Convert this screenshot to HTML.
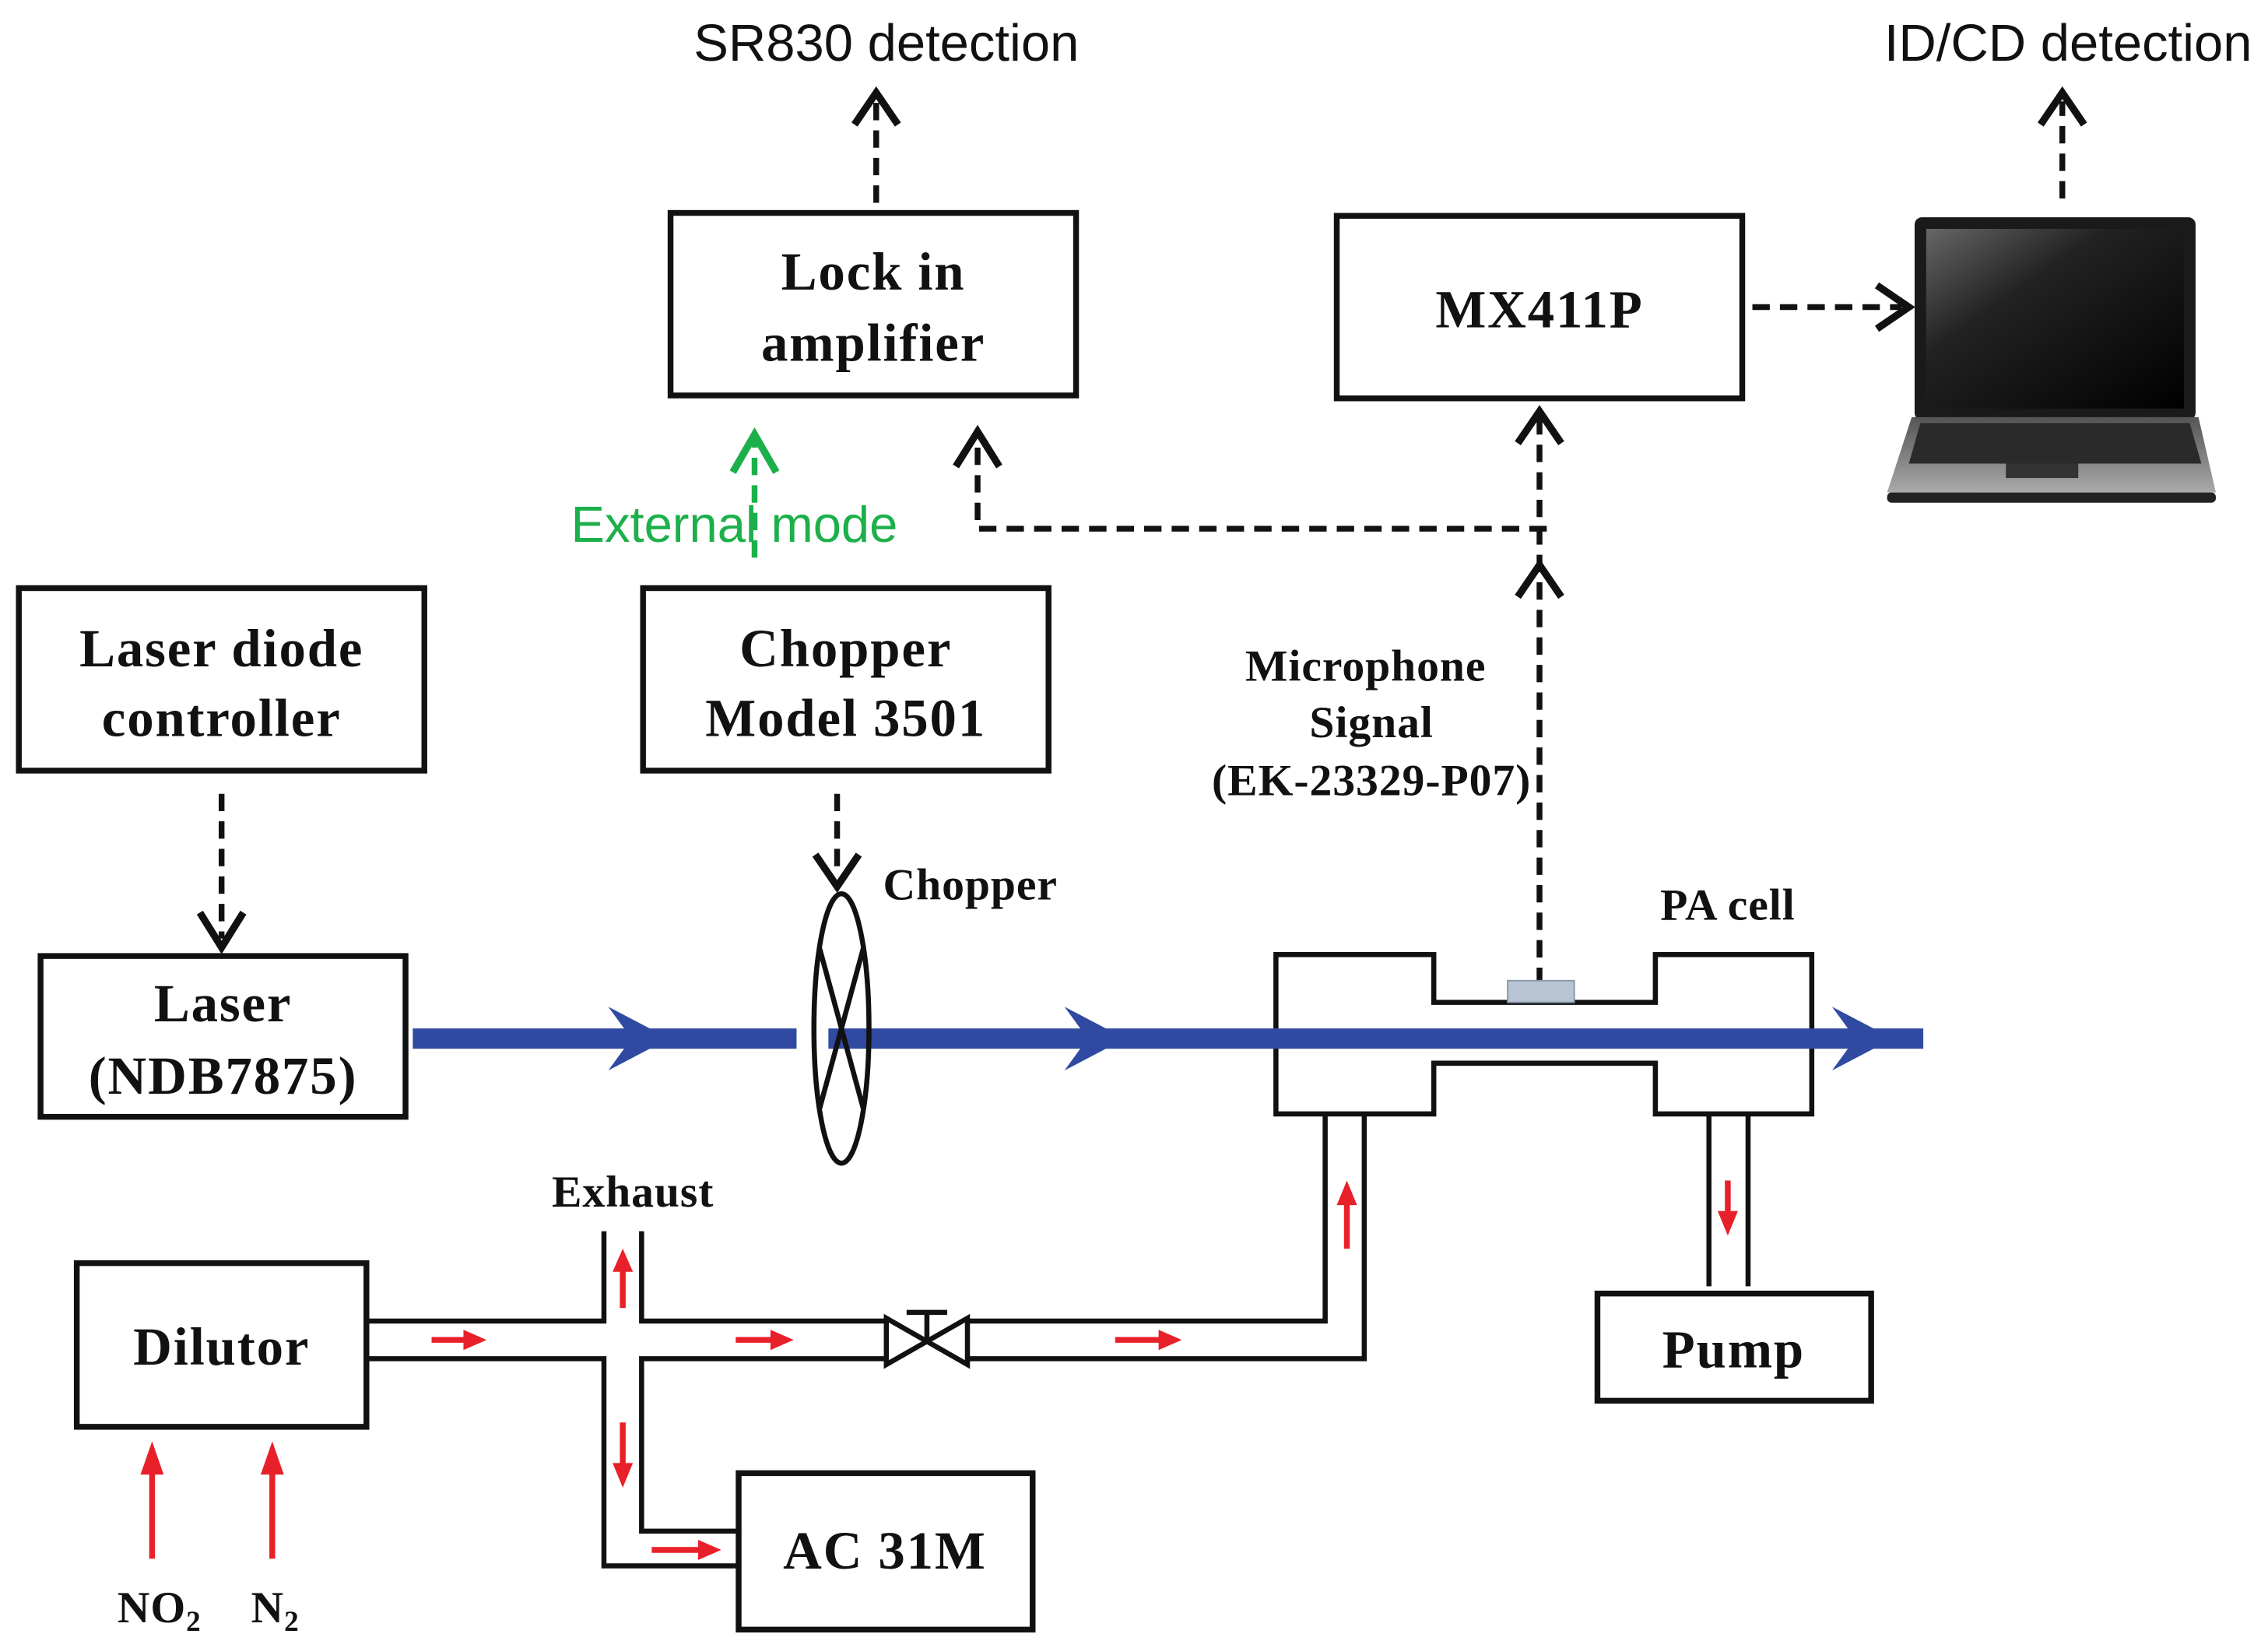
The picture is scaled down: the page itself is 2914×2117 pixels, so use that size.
<!DOCTYPE html>
<html><head><meta charset="utf-8"><style>
html,body{margin:0;padding:0;background:#fff;}
svg{display:block;}
.s{font-family:"Liberation Serif",serif;font-weight:bold;fill:#111;}
.a{font-family:"Liberation Sans",sans-serif;fill:#111;}
</style></head><body>
<svg width="2914" height="2117" viewBox="0 0 1566 1137.7" xmlns="http://www.w3.org/2000/svg">
<defs>
<linearGradient id="scr" x1="0" y1="0" x2="1" y2="1"><stop offset="0" stop-color="#666"/><stop offset="0.35" stop-color="#222"/><stop offset="1" stop-color="#000"/></linearGradient>
<linearGradient id="base" x1="0" y1="0" x2="0" y2="1"><stop offset="0" stop-color="#555"/><stop offset="1" stop-color="#aaa"/></linearGradient>
</defs>
<g fill="none" stroke="#111" stroke-width="4">
<rect x="463" y="147" width="280" height="126"/>
<rect x="923" y="149" width="280" height="126"/>
<rect x="13" y="406" width="280" height="126"/>
<rect x="444" y="406" width="280" height="126"/>
<rect x="28" y="660" width="252" height="111"/>
<rect x="53" y="872" width="200" height="113"/>
<rect x="510" y="1017" width="203" height="108"/>
<rect x="1103" y="893" width="189" height="74"/>
</g>
<g class="s" text-anchor="middle" font-size="37" letter-spacing="1">
<text x="603" y="200">Lock in</text>
<text x="603" y="249">amplifier</text>
<text x="1063" y="226">MX411P</text>
<text x="153" y="460">Laser diode</text>
<text x="153" y="508">controller</text>
<text x="584" y="460">Chopper</text>
<text x="584" y="508">Model 3501</text>
<text x="154" y="705">Laser</text>
<text x="154" y="755">(NDB7875)</text>
<text x="153" y="942">Dilutor</text>
<text x="611" y="1083">AC 31M</text>
<text x="1197" y="944">Pump</text>
</g>
<g class="s" font-size="31" text-anchor="middle" letter-spacing="0.5">
<text x="943" y="470">Microphone</text>
<text x="947" y="509">Signal</text>
<text x="947" y="549">(EK-23329-P07)</text>
<text x="670" y="621">Chopper</text>
<text x="1193" y="635">PA cell</text>
<text x="437" y="833">Exhaust</text>
<text x="110" y="1120">NO<tspan font-size="20" dy="6">2</tspan></text>
<text x="190" y="1120">N<tspan font-size="20" dy="6">2</tspan></text>
</g>
<text class="a" x="612" y="42" font-size="36" text-anchor="middle">SR830 detection</text>
<text class="a" x="1428" y="42" font-size="36" text-anchor="middle">ID/CD detection</text>
<g fill="none" stroke="#111" stroke-width="4" stroke-dasharray="12,7">
<line x1="605" y1="140" x2="605" y2="70"/>
<line x1="1424" y1="137" x2="1424" y2="70"/>
<line x1="1210" y1="212" x2="1313" y2="212"/>
<polyline points="1068,365 675,365 675,303"/>
<line x1="1063" y1="680" x2="1063" y2="288"/>
<line x1="153" y1="548" x2="153" y2="648"/>
<line x1="578" y1="548" x2="578" y2="605"/>
</g>
<g fill="none" stroke="#111" stroke-width="5">
<polyline points="590,86 605,64 620,86"/>
<polyline points="1409,86 1424,64 1439,86"/>
<polyline points="1296,197 1318,212 1296,227"/>
<polyline points="660,322 675,298 690,322"/>
<polyline points="1048,306 1063,284 1078,306"/>
<polyline points="1048,412 1063,390 1078,412"/>
<polyline points="138,630 153,654 168,630"/>
<polyline points="563,590 578,612 593,590"/>
</g>
<line x1="521" y1="385" x2="521" y2="305" stroke="#1cb04a" stroke-width="4" stroke-dasharray="12,7"/>
<polyline points="506,326 521,300 536,326" fill="none" stroke="#1cb04a" stroke-width="5"/>
<text x="507" y="374" font-family="Liberation Sans,sans-serif" font-size="35" fill="#1cb04a" text-anchor="middle">External mode</text>
<g fill="#fff" stroke="#111" stroke-width="3.5">
<path d="M881,659 H990 V692 H1143 V659 H1251 V769 H1143 V734 H990 V769 H881 Z"/>
</g>
<rect x="1041" y="677" width="46" height="15" fill="#b8c4d4" stroke="#8895a8" stroke-width="1"/>
<g fill="#2f4aa0">
<rect x="285" y="710" width="265" height="14"/>
<rect x="572" y="710" width="756" height="14"/>
<polygon points="420,695 462,717 420,739 436,717"/>
<polygon points="735,695 777,717 735,739 751,717"/>
<polygon points="1265,695 1307,717 1265,739 1281,717"/>
</g>
<g fill="none" stroke="#111" stroke-width="3.5">
<ellipse cx="581" cy="710" rx="19" ry="93"/>
<line x1="566" y1="655" x2="596" y2="765"/>
<line x1="596" y1="655" x2="566" y2="765"/>
</g>
<g fill="none" stroke="#111" stroke-width="3.5">
<polyline points="253,912 417,912 417,850"/>
<polyline points="443,850 443,912 612,912"/>
<polyline points="668,912 915,912 915,769"/>
<polyline points="253,938 417,938 417,1081 510,1081"/>
<polyline points="510,1057 443,1057 443,938 612,938"/>
<polyline points="668,938 942,938 942,769"/>
<line x1="1180" y1="769" x2="1180" y2="888"/>
<line x1="1207" y1="769" x2="1207" y2="888"/>
<polygon points="612,910 668,942 668,910 612,942" fill="#fff"/>
<line x1="640" y1="926" x2="640" y2="906"/>
<line x1="626" y1="906" x2="654" y2="906"/>
</g>
<g stroke="#e8202a" stroke-width="4" fill="#e8202a">
<line x1="298" y1="925" x2="322" y2="925"/><polygon points="320,918 336,925 320,932" stroke="none"/>
<line x1="508" y1="925" x2="534" y2="925"/><polygon points="532,918 548,925 532,932" stroke="none"/>
<line x1="770" y1="925" x2="802" y2="925"/><polygon points="800,918 816,925 800,932" stroke="none"/>
<line x1="450" y1="1070" x2="484" y2="1070"/><polygon points="482,1063 498,1070 482,1077" stroke="none"/>
<line x1="430" y1="903" x2="430" y2="876"/><polygon points="423,878 430,862 437,878" stroke="none"/>
<line x1="430" y1="982" x2="430" y2="1012"/><polygon points="423,1010 430,1027 437,1010" stroke="none"/>
<line x1="930" y1="862" x2="930" y2="830"/><polygon points="923,832 930,815 937,832" stroke="none"/>
<line x1="1193" y1="815" x2="1193" y2="838"/><polygon points="1186,836 1193,853 1200,836" stroke="none"/>
<line x1="105" y1="1076" x2="105" y2="1015"/><polygon points="97,1018 105,995 113,1018" stroke="none"/>
<line x1="188" y1="1076" x2="188" y2="1015"/><polygon points="180,1018 188,995 196,1018" stroke="none"/>
</g>
<rect x="1322" y="150" width="194" height="140" rx="5" fill="#1a1a1a"/>
<rect x="1330" y="158" width="178" height="124" fill="url(#scr)"/>
<polygon points="1320,288 1518,288 1530,340 1303,340" fill="url(#base)"/>
<polygon points="1326,292 1512,292 1520,320 1318,320" fill="#2a2a2a"/>
<rect x="1385" y="320" width="50" height="10" fill="#333"/>
<rect x="1303" y="340" width="227" height="7" rx="3" fill="#222"/>
</svg>
</body></html>
